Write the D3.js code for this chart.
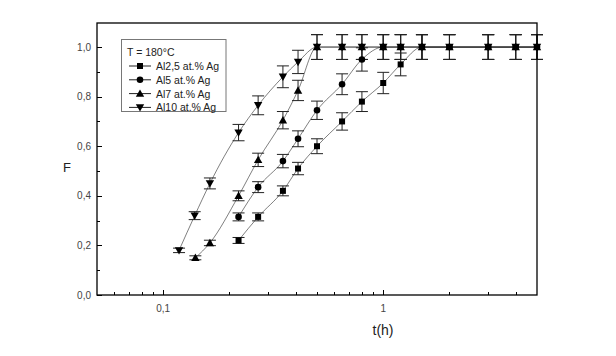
<!DOCTYPE html>
<html><head><meta charset="utf-8">
<script src="https://cdn.jsdelivr.net/npm/d3@7"></script>
<style>body{margin:0;background:#fff}svg{display:block}</style>
</head><body>
<svg id="c" width="616" height="356"></svg>
<script>
const seriesNames = ["Al2,5 at.% Ag","Al5 at.% Ag","Al7 at.% Ag","Al10 at.% Ag"];
const symbols = ["square","circle","triangle","triangleDown"];
const tAl25 = [0.22,0.27,0.35,0.41,0.5,0.65,0.8,1.0,1.2,1.5,2,3,4,5];
const fAl25 = [0.22,0.315,0.42,0.51,0.60,0.70,0.78,0.855,0.93,1,1,1,1,1];
const eAl25 = [0.012,0.016,0.02,0.025,0.03,0.035,0.04,0.043,0.046,0.05,0.05,0.05,0.05,0.05];
const tAl5 = [0.22,0.27,0.35,0.41,0.5,0.65,0.8,1.0,1.2,1.5,2,3,4,5];
const fAl5 = [0.315,0.435,0.54,0.63,0.745,0.85,0.95,1,1,1,1,1,1,1];
const eAl5 = [0.016,0.022,0.027,0.032,0.037,0.042,0.047,0.05,0.05,0.05,0.05,0.05,0.05,0.05];
const tAl7 = [0.14,0.163,0.22,0.27,0.35,0.41,0.5,0.65,0.8,1.0,1.2,1.5,2,3,4,5];
const fAl7 = [0.15,0.21,0.40,0.545,0.705,0.825,1,1,1,1,1,1,1,1,1,1];
const eAl7 = [0.008,0.011,0.02,0.027,0.035,0.041,0.05,0.05,0.05,0.05,0.05,0.05,0.05,0.05,0.05,0.05];
const tAl10 = [0.118,0.139,0.163,0.22,0.27,0.35,0.41,0.5,0.65,0.8,1.0,1.2,1.5,2,3,4,5];
const fAl10 = [0.18,0.32,0.45,0.655,0.765,0.88,0.94,1,1,1,1,1,1,1,1,1,1];
const eAl10 = [0.009,0.016,0.022,0.033,0.038,0.044,0.047,0.05,0.05,0.05,0.05,0.05,0.05,0.05,0.05,0.05,0.05];
const yTicks = [0,0.2,0.4,0.6,0.8,1.0];
const yMinor = [0.1,0.3,0.5,0.7,0.9];
const xTicks = [0.1,1];
const xMinor = [0.06,0.07,0.08,0.09,0.2,0.3,0.4,0.5,0.6,0.7,0.8,0.9,2,3,4];

const T = [tAl25,tAl5,tAl7,tAl10], F=[fAl25,fAl5,fAl7,fAl10], E=[eAl25,eAl5,eAl7,eAl10];

const svg = d3.select("#c");
const L=97, R=537, Tp=23, B=295;
const x = d3.scaleLog().domain([0.05,5]).range([L,R]);
const y = d3.scaleLinear().domain([0,1.097]).range([B,Tp]);
const fmt = d => d3.format(".1f")(d).replace(".",",");
const fmtX = d => String(d).replace(".",",");

// ticks
const ax = svg.append("g").attr("stroke","#000").attr("stroke-width",1);
yTicks.forEach(v=>ax.append("line").attr("x1",L).attr("x2",L+5).attr("y1",Math.round(y(v))+0.5).attr("y2",Math.round(y(v))+0.5));
yMinor.forEach(v=>ax.append("line").attr("x1",L).attr("x2",L+3).attr("y1",Math.round(y(v))+0.5).attr("y2",Math.round(y(v))+0.5));
xTicks.forEach(v=>ax.append("line").attr("y1",B).attr("y2",B-5).attr("x1",Math.round(x(v))+0.5).attr("x2",Math.round(x(v))+0.5));
xMinor.forEach(v=>ax.append("line").attr("y1",B).attr("y2",B-3).attr("x1",Math.round(x(v))+0.5).attr("x2",Math.round(x(v))+0.5));

const lab = svg.append("g").attr("font-family","Liberation Sans, Arial, sans-serif").attr("font-size",10).attr("fill","#444");
yTicks.forEach(v=>lab.append("text").attr("x",L-6).attr("y",y(v)+3.5).attr("text-anchor","end").text(fmt(v)));
xTicks.forEach(v=>lab.append("text").attr("x",x(v)).attr("y",B+17).attr("text-anchor","middle").text(fmtX(v)));
svg.append("text").attr("x",67).attr("y",172).attr("font-family","Liberation Sans, Arial, sans-serif").attr("font-size",13).attr("fill","#222").attr("text-anchor","middle").text("F");
svg.append("text").attr("x",383).attr("y",335).attr("font-family","Liberation Sans, Arial, sans-serif").attr("font-size",14).attr("fill","#222").attr("text-anchor","middle").text("t(h)");

// curves
const line = d3.line().x(d=>x(d[0])).y(d=>y(d[1])).curve(d3.curveMonotoneX);
const g = svg.append("g");
T.forEach((ts,i)=>{
  const pts = ts.map((t,j)=>[t,F[i][j]]);
  g.append("path").attr("d",line(pts)).attr("fill","none").attr("stroke","#000").attr("stroke-opacity",0.5).attr("stroke-width",1);
});
// error bars
T.forEach((ts,i)=>{
  ts.forEach((t,j)=>{
    const cx = x(t), y1=y(F[i][j]+E[i][j]), y2=y(F[i][j]-E[i][j]);
    g.append("line").attr("x1",cx).attr("x2",cx).attr("y1",y1).attr("y2",y2).attr("stroke","#222").attr("stroke-width",1);
    [y1,y2].forEach(yy=>g.append("line").attr("x1",cx-6).attr("x2",cx+6).attr("y1",yy).attr("y2",yy).attr("stroke","#222").attr("stroke-width",1));
  });
});
// markers
function marker(sel, type, cx, cy){
  if(type==="square") sel.append("rect").attr("x",cx-3).attr("y",cy-3).attr("width",6).attr("height",6).attr("fill","#000");
  else if(type==="circle") sel.append("circle").attr("cx",cx).attr("cy",cy).attr("r",3.3).attr("fill","#000");
  else if(type==="triangle") sel.append("path").attr("d",`M${cx},${cy-4.2}L${cx+4.2},${cy+3.2}L${cx-4.2},${cy+3.2}Z`).attr("fill","#000");
  else sel.append("path").attr("d",`M${cx},${cy+4.2}L${cx+4.2},${cy-3.2}L${cx-4.2},${cy-3.2}Z`).attr("fill","#000");
}
T.forEach((ts,i)=>ts.forEach((t,j)=>marker(g,symbols[i],x(t),y(F[i][j]))));

// frame
svg.append("rect").attr("x",L).attr("y",Tp).attr("width",R-L).attr("height",B-Tp).attr("fill","none").attr("stroke","#000").attr("stroke-width",1.3);

// legend
const lg = svg.append("g").attr("font-family","Liberation Sans, Arial, sans-serif").attr("font-size",10.5).attr("fill","#222");
lg.append("rect").attr("x",121.5).attr("y",39.5).attr("width",104.5).attr("height",72).attr("fill","#fff").attr("stroke","#777").attr("stroke-width",1);
lg.append("text").attr("x",127).attr("y",55.5).text("T = 180°C");
seriesNames.forEach((n,i)=>{
  const cy = 66 + i*13.8;
  lg.append("line").attr("x1",129).attr("x2",151).attr("y1",cy).attr("y2",cy).attr("stroke","#222").attr("stroke-width",1);
  marker(lg, symbols[i], 140, cy);
  lg.append("text").attr("x",156).attr("y",cy+4).text(n);
});
</script>
</body></html>
